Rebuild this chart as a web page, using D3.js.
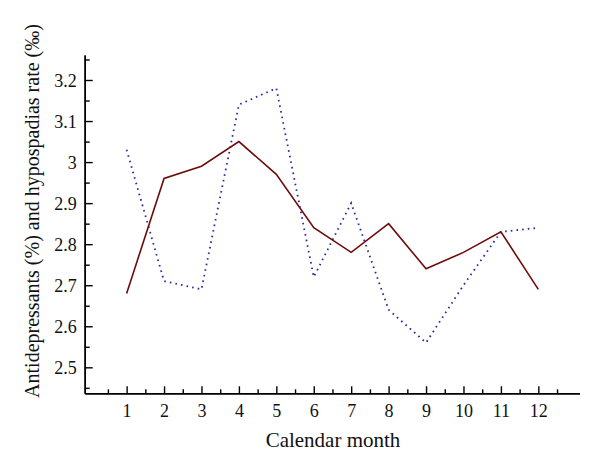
<!DOCTYPE html>
<html><head><meta charset="utf-8">
<script src="https://cdn.jsdelivr.net/npm/d3@7"></script>
<style>
body{margin:0;background:#fff;}
svg{display:block;font-family:"Liberation Serif","DejaVu Serif",serif;}
</style></head>
<body>
<svg id="chart" width="600" height="472"></svg>
<script>
const months = [1,2,3,4,5,6,7,8,9,10,11,12];
const antidepressants = [2.68,2.96,2.99,3.05,2.97,2.84,2.78,2.85,2.74,2.78,2.83,2.69];
const hypospadias = [3.03,2.71,2.69,3.14,3.18,2.72,2.90,2.64,2.56,2.70,2.83,2.84];
const yTickValues = [2.5,2.6,2.7,2.8,2.9,3.0,3.1,3.2];
const yTickLabels = ["2.5","2.6","2.7","2.8","2.9","3","3.1","3.2"];
const yMinorTicks = [2.45,2.55,2.65,2.75,2.85,2.95,3.05,3.15,3.25];
const xMinorTicks = [0.5,1.5,2.5,3.5,4.5,5.5,6.5,7.5,8.5,9.5,10.5,11.5,12.5];
const xTitle = "Calendar month";
const yTitle = "Antidepressants (%) and hypospadias rate (‰)";

const svg = d3.select("#chart");
const x = d3.scaleLinear().domain([-0.12, 13.1]).range([84.7, 579.5]);
const y = d3.scaleLinear().domain([2.4367, 3.2609]).range([393.3, 55]);

// minor ticks
const gx0 = svg.append("g").attr("transform", `translate(0,${y.range()[0]})`)
  .call(d3.axisBottom(x).tickValues(xMinorTicks).tickSize(-4).tickSizeOuter(0).tickFormat(""));
const gy0 = svg.append("g").attr("transform", `translate(${x.range()[0]},0)`)
  .call(d3.axisLeft(y).tickValues(yMinorTicks).tickSize(-5).tickSizeOuter(0).tickFormat(""));

// major ticks
const gx = svg.append("g").attr("transform", `translate(0,${y.range()[0]})`)
  .call(d3.axisBottom(x).tickValues(months).tickSize(-7).tickSizeOuter(0).tickPadding(0).tickFormat(d3.format("d")));
const gy = svg.append("g").attr("transform", `translate(${x.range()[0]},0)`)
  .call(d3.axisLeft(y).tickValues(yTickValues).tickSize(-8).tickSizeOuter(0).tickPadding(8)
    .tickFormat((d,i) => yTickLabels[i]));

[gx0, gy0, gx, gy].forEach(g => {
  g.selectAll("line").attr("stroke", "#000").attr("stroke-width", 1.4);
  g.select(".domain").attr("stroke", "#000").attr("stroke-width", 1.5);
  g.selectAll("text").attr("fill", "#111").style("font-family", '"Liberation Serif",serif').style("font-size", "18px");
});
gx.selectAll("text").attr("dy", null).attr("y", 23.7);
gy.selectAll("text").attr("dy", "0.34em");

// lines
const line = d3.line().x((d,i) => x(months[i])).y(d => y(d));
svg.append("path").datum(hypospadias).attr("d", line)
  .attr("fill", "none").attr("stroke", "#2a2aa0").attr("stroke-width", 1.8)
  .attr("stroke-dasharray", "1.6,4.1");
svg.append("path").datum(antidepressants).attr("d", line)
  .attr("fill", "none").attr("stroke", "#6e0c0c").attr("stroke-width", 1.6)
  .attr("stroke-linejoin", "miter");

// titles
svg.append("text").attr("x", 333).attr("y", 447).attr("text-anchor", "middle")
  .style("font-size", "21px").attr("fill", "#111").text(xTitle);
svg.append("text").attr("transform", "translate(38.5,211) rotate(-90)").attr("text-anchor", "middle")
  .style("font-size", "20px").attr("fill", "#111").text(yTitle);
</script>
</body></html>
